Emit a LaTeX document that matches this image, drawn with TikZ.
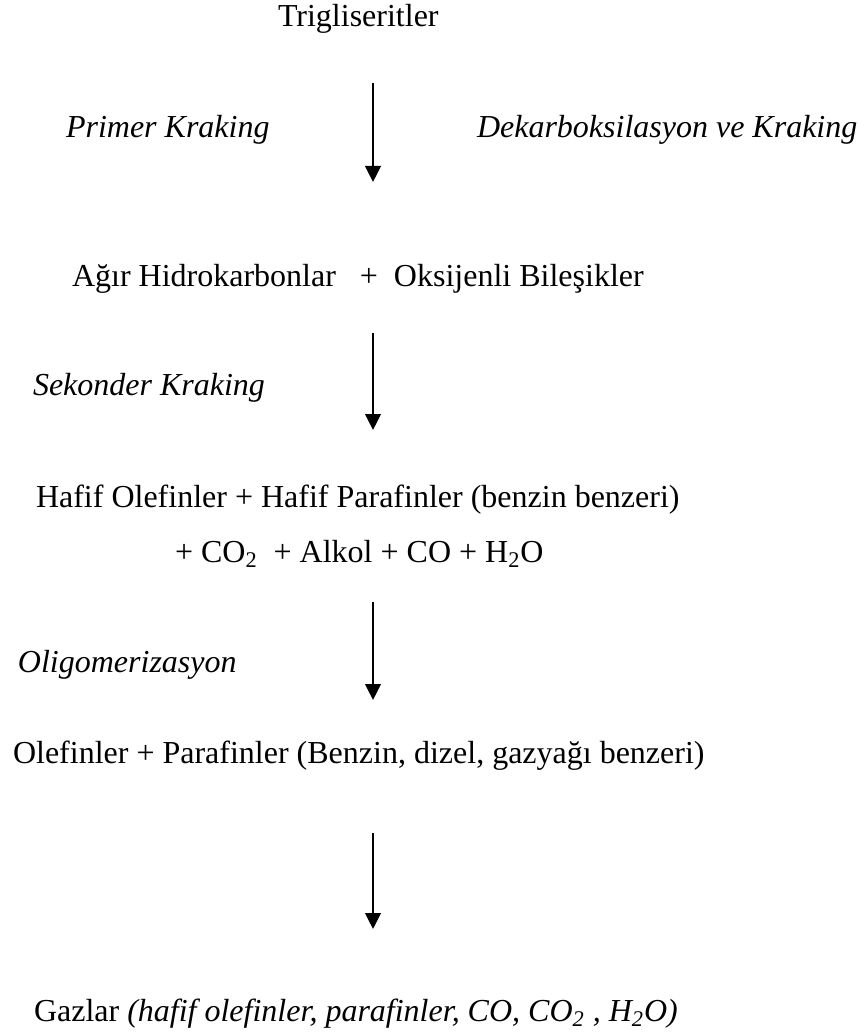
\documentclass[tikz,border=0pt]{standalone}
\usepackage{fontspec}
\setmainfont{Liberation Serif}
\usetikzlibrary{arrows.meta}

\begin{document}
\begin{tikzpicture}[x=0.5pt, y=-0.5pt, line width=1pt,
    txt/.style={anchor=base west, inner sep=0pt, font=\fontsize{16}{19}\selectfont},
    proc/.style={txt, font=\fontsize{16}{19}\selectfont\itshape},
    flow/.style={-{Triangle[length=8pt,width=7.8pt]}}]
    \useasboundingbox (0,0) rectangle (866,1032);
    \coordinate (axis) at (373,0);

    \node (trig) [txt] at (277,27) {Trigliseritler};
    \node (primer) [proc] at (65,138) {Primer Kraking};
    \node (dekarb) [proc] at (476,138) {Dekarboksilasyon ve Kraking};
    \node (agir) [txt] at (71,286) {Ağır Hidrokarbonlar\ \ \ +\ \ Oksijenli Bileşikler};
    \node (sekonder) [proc] at (32,395) {Sekonder Kraking};
    \node (hafif) [txt] at (35,507) {Hafif Olefinler + Hafif Parafinler (benzin benzeri)};
    \node (hafifgaz) [txt] at (174,562) {+ CO\textsubscript{2}\ \ + Alkol + CO + H\textsubscript{2}O};
    \node (oligo) [proc] at (17,672) {Oligomerizasyon};
    \node (olefin) [txt] at (12,763) {Olefinler + Parafinler (Benzin, dizel, gazyağı benzeri)};
    \node (gazlar) [txt] at (33,1021) {Gazlar \textit{(hafif olefinler, parafinler, CO, CO\textsubscript{2} , H\textsubscript{2}O)}};

    \draw[flow, shorten <=28pt, shorten >=52pt] (axis |- trig.base) -- (axis |- agir.base);
    \draw[flow, shorten <=23.5pt, shorten >=38.5pt] (axis |- agir.base) -- (axis |- hafif.base);
    \draw[flow, shorten <=20pt, shorten >=31.5pt] (axis |- hafifgaz.base) -- (axis |- olefin.base);
    \draw[flow, shorten <=35pt, shorten >=46pt] (axis |- olefin.base) -- (axis |- gazlar.base);
\end{tikzpicture}
\end{document}
